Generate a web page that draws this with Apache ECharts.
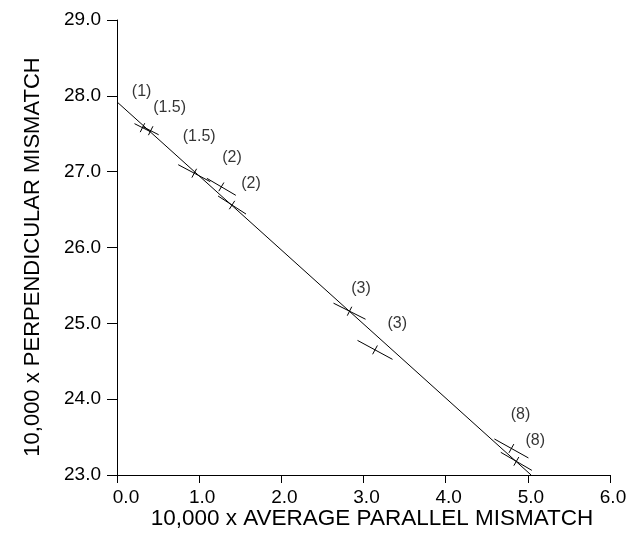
<!DOCTYPE html>
<html>
<head>
<meta charset="utf-8">
<script src="https://cdn.jsdelivr.net/npm/echarts@6/dist/echarts.min.js"></script>
<style>
html,body{margin:0;padding:0;background:#fff;}
#chart{width:631px;height:533px;}
</style>
</head>
<body>
<div id="chart"></div>
<script>
// Data
var pointX = [0.31, 0.41, 0.94, 1.27, 1.40, 2.83, 3.14, 4.80, 4.86];
var pointY = [27.58, 27.54, 26.98, 26.80, 26.56, 25.16, 24.65, 23.35, 23.18];
var errX   = [0.097, 0.097, 0.195, 0.176, 0.170, 0.195, 0.213, 0.207, 0.189];
var errY   = [0.053, 0.053, 0.112, 0.112, 0.119, 0.106, 0.125, 0.125, 0.119];

var labelText = ['(1)', '(1.5)', '(1.5)', '(2)', '(2)', '(3)', '(3)', '(8)', '(8)'];
var labelX = [0.30, 0.64, 1.00, 1.40, 1.63, 2.97, 3.41, 4.91, 5.09];
var labelY = [28.06, 27.84, 27.46, 27.18, 26.84, 25.46, 25.00, 23.79, 23.45];

var fitX = [0.0, 5.04];
var fitY = [27.92, 23.0];

var xTicks = [0, 1, 2, 3, 4, 5, 6];
var yTicks = [23, 24, 25, 26, 27, 28, 29];

var xTitle = '10,000 x AVERAGE PARALLEL MISMATCH';
var yTitle = '10,000 x PERPENDICULAR MISMATCH';

var FONT = 'Liberation Sans';

var chart = echarts.init(document.getElementById('chart'), null, {renderer: 'canvas'});

var errData = pointX.map(function (x, i) { return [x, pointY[i], errX[i], errY[i]]; });
var labelData = labelX.map(function (x, i) { return {value: [x, labelY[i]], name: labelText[i]}; });
var fitData = fitX.map(function (x, i) { return [x, fitY[i]]; });

var option = {
  backgroundColor: '#fff',
  animation: false,
  grid: {left: 117, right: 21, top: 20, bottom: 58},
  xAxis: {
    type: 'value', min: xTicks[0], max: xTicks[xTicks.length - 1], interval: 1,
    axisLine: {show: true, lineStyle: {color: '#000', width: 1}},
    axisTick: {show: true, length: 8, lineStyle: {color: '#000'}},
    splitLine: {show: false},
    axisLabel: {color: '#000', fontFamily: FONT, fontSize: 19, margin: 13,
      formatter: function (v) { return (v === 0 ? '{f|' : '{n|') + v.toFixed(1) + '}'; },
      rich: {
        f: {fontFamily: FONT, fontSize: 19, color: '#000', padding: [0, 0, 0, 18]},
        n: {fontFamily: FONT, fontSize: 19, color: '#000', padding: [0, 0, 0, 6]}
      }}
  },
  yAxis: {
    type: 'value', min: yTicks[0], max: yTicks[yTicks.length - 1], interval: 1,
    axisLine: {show: true, lineStyle: {color: '#000', width: 1}},
    axisTick: {show: true, length: 10, lineStyle: {color: '#000'}},
    splitLine: {show: false},
    axisLabel: {color: '#000', fontFamily: FONT, fontSize: 19, margin: 16,
      formatter: function (v) { return v.toFixed(1); }}
  },
  graphic: [
    {type: 'text', x: 372, y: 519, silent: true,
      style: {text: xTitle, fill: '#000', font: '22.5px "' + FONT + '"', align: 'center', verticalAlign: 'middle'}},
    {type: 'text', x: 33, y: 257, rotation: Math.PI / 2, silent: true,
      style: {text: yTitle, fill: '#000', font: '22px "' + FONT + '"', align: 'center', verticalAlign: 'middle'}}
  ],
  series: [
    {
      type: 'line', data: fitData, symbol: 'none', silent: true,
      lineStyle: {color: '#000', width: 1}
    },
    {
      type: 'custom', data: errData, silent: true,
      renderItem: function (params, api) {
        var x = api.value(0), y = api.value(1), ex = api.value(2), ey = api.value(3);
        var c = api.coord([x, y]);
        var p1 = api.coord([x - ex, y + ey]);
        var p2 = api.coord([x + ex, y - ey]);
        var dx = p2[0] - p1[0], dy = p2[1] - p1[1];
        var L = Math.sqrt(dx * dx + dy * dy);
        var nx = -dy / L, ny = dx / L;
        var h = 5;
        return {
          type: 'group',
          children: [
            {type: 'line', shape: {x1: p1[0], y1: p1[1], x2: p2[0], y2: p2[1]},
              style: {stroke: '#000', lineWidth: 1}},
            {type: 'line', shape: {x1: c[0] - nx * h, y1: c[1] - ny * h, x2: c[0] + nx * h, y2: c[1] + ny * h},
              style: {stroke: '#000', lineWidth: 1}}
          ]
        };
      }
    },
    {
      type: 'scatter', data: labelData, symbolSize: 1, silent: true,
      itemStyle: {color: 'rgba(0,0,0,0)'},
      label: {show: true, position: 'inside', color: '#000', fontFamily: FONT, fontSize: 16,
        formatter: function (p) { return p.name; }}
    }
  ]
};
chart.setOption(option);
</script>
</body>
</html>
